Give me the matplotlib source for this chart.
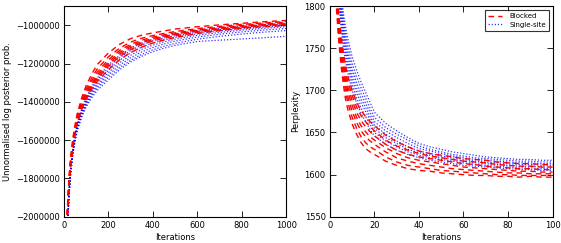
import matplotlib
matplotlib.use("Agg")
import matplotlib.pyplot as plt
from matplotlib.lines import Line2D

# ---------------- data ----------------
# Left panel: iterations and log posterior values (in thousands)
iters_left = [10, 15, 20, 25, 30, 40, 50, 60, 80, 100, 125, 150, 200, 250, 300, 350,
              400, 450, 500, 600, 700, 800, 900, 1000]

blocked_logp_k = [
    [-2250, -1960, -1850, -1760, -1690, -1590, -1520, -1460, -1378, -1315, -1255, -1205, -1145, -1100, -1070, -1052, -1040, -1030, -1020, -1008, -998, -990, -982, -975],
    [-2270, -1975, -1862, -1772, -1702, -1602, -1532, -1472, -1392, -1332, -1275, -1228, -1165, -1120, -1088, -1068, -1054, -1043, -1033, -1018, -1006, -996, -988, -981],
    [-2285, -1985, -1872, -1782, -1712, -1612, -1542, -1482, -1405, -1345, -1290, -1245, -1180, -1132, -1100, -1078, -1062, -1050, -1040, -1024, -1011, -1001, -993, -985],
    [-2300, -1995, -1880, -1790, -1720, -1620, -1550, -1490, -1415, -1355, -1302, -1258, -1192, -1142, -1108, -1086, -1069, -1056, -1045, -1028, -1015, -1005, -997, -990],
    [-2310, -2003, -1888, -1797, -1727, -1627, -1557, -1498, -1424, -1365, -1312, -1268, -1202, -1151, -1116, -1092, -1075, -1061, -1050, -1032, -1019, -1009, -1000, -993],
    [-2320, -2012, -1896, -1804, -1734, -1634, -1564, -1506, -1433, -1375, -1322, -1279, -1215, -1163, -1127, -1101, -1082, -1068, -1056, -1037, -1023, -1012, -1003, -997],
    [-2330, -2020, -1904, -1811, -1741, -1641, -1571, -1514, -1442, -1386, -1335, -1293, -1232, -1180, -1142, -1114, -1093, -1077, -1064, -1043, -1028, -1016, -1007, -1001],
]

single_logp_k = [
    [-2400, -2080, -1920, -1820, -1745, -1640, -1570, -1512, -1435, -1378, -1320, -1275, -1208, -1158, -1120, -1093, -1073, -1058, -1047, -1030, -1016, -1006, -998, -991],
    [-2420, -2092, -1930, -1828, -1752, -1647, -1577, -1519, -1443, -1387, -1330, -1286, -1222, -1170, -1132, -1103, -1082, -1067, -1055, -1037, -1023, -1012, -1003, -996],
    [-2435, -2104, -1940, -1836, -1759, -1653, -1583, -1525, -1450, -1395, -1340, -1297, -1235, -1183, -1144, -1114, -1093, -1077, -1064, -1045, -1030, -1019, -1010, -1002],
    [-2450, -2115, -1948, -1843, -1765, -1659, -1589, -1532, -1457, -1403, -1350, -1308, -1248, -1196, -1157, -1126, -1104, -1087, -1073, -1053, -1038, -1026, -1016, -1008],
    [-2460, -2125, -1956, -1850, -1771, -1665, -1595, -1538, -1464, -1410, -1359, -1318, -1260, -1209, -1170, -1139, -1116, -1098, -1083, -1062, -1047, -1035, -1025, -1017],
    [-2470, -2135, -1963, -1856, -1777, -1671, -1601, -1545, -1472, -1418, -1368, -1328, -1272, -1222, -1183, -1152, -1128, -1110, -1095, -1073, -1058, -1046, -1036, -1028],
    [-2480, -2145, -1970, -1862, -1783, -1677, -1607, -1552, -1480, -1427, -1378, -1340, -1285, -1233, -1192, -1162, -1138, -1120, -1105, -1085, -1078, -1072, -1065, -1058],
]

# Right panel: iterations and perplexity
iters_right = [2, 3, 4, 5, 6, 7, 8, 10, 12, 14, 16, 18, 20, 25, 30, 35, 40, 45, 50,
               55, 60, 65, 70, 75, 80, 85, 90, 95, 100]

blocked_perp = [
    [1850, 1795, 1758, 1730, 1708, 1690, 1678, 1660, 1648, 1638, 1631, 1627, 1624, 1616, 1611, 1607, 1605, 1604, 1602, 1601, 1600, 1599, 1599, 1598, 1598, 1597, 1598, 1597, 1597],
    [1860, 1802, 1765, 1738, 1716, 1699, 1686, 1668, 1655, 1645, 1638, 1633, 1630, 1621, 1615, 1611, 1609, 1607, 1605, 1604, 1603, 1602, 1601, 1600, 1600, 1599, 1599, 1599, 1599],
    [1865, 1808, 1771, 1745, 1723, 1706, 1693, 1675, 1662, 1652, 1645, 1640, 1636, 1627, 1620, 1616, 1613, 1611, 1609, 1607, 1606, 1605, 1604, 1603, 1602, 1602, 1601, 1601, 1601],
    [1870, 1812, 1776, 1750, 1729, 1712, 1699, 1682, 1668, 1658, 1651, 1645, 1641, 1632, 1625, 1620, 1617, 1615, 1613, 1611, 1609, 1608, 1607, 1606, 1605, 1604, 1604, 1603, 1603],
    [1875, 1816, 1781, 1755, 1734, 1718, 1705, 1688, 1674, 1664, 1657, 1651, 1646, 1636, 1629, 1624, 1621, 1619, 1617, 1615, 1613, 1612, 1610, 1609, 1608, 1607, 1607, 1606, 1606],
    [1880, 1820, 1786, 1760, 1740, 1724, 1711, 1694, 1680, 1670, 1663, 1657, 1652, 1641, 1634, 1629, 1625, 1622, 1620, 1618, 1616, 1615, 1614, 1612, 1611, 1610, 1610, 1609, 1609],
    [1885, 1825, 1791, 1766, 1746, 1730, 1717, 1700, 1686, 1676, 1669, 1663, 1658, 1647, 1639, 1633, 1628, 1625, 1623, 1621, 1619, 1618, 1617, 1615, 1614, 1613, 1613, 1612, 1612],
]

single_perp = [
    [1950, 1870, 1805, 1775, 1752, 1735, 1722, 1700, 1685, 1673, 1663, 1654, 1646, 1636, 1629, 1624, 1620, 1617, 1615, 1613, 1611, 1610, 1609, 1608, 1607, 1606, 1606, 1605, 1605],
    [1960, 1878, 1815, 1783, 1760, 1743, 1729, 1707, 1691, 1679, 1669, 1660, 1650, 1640, 1633, 1627, 1623, 1620, 1618, 1616, 1614, 1612, 1611, 1610, 1609, 1608, 1608, 1607, 1607],
    [1970, 1885, 1822, 1790, 1767, 1749, 1735, 1713, 1697, 1685, 1675, 1665, 1655, 1644, 1637, 1630, 1626, 1623, 1620, 1618, 1616, 1614, 1613, 1612, 1611, 1610, 1610, 1609, 1609],
    [1975, 1890, 1828, 1796, 1773, 1755, 1741, 1719, 1703, 1690, 1680, 1669, 1659, 1648, 1640, 1633, 1628, 1625, 1622, 1620, 1618, 1616, 1615, 1614, 1613, 1612, 1612, 1611, 1611],
    [1980, 1895, 1833, 1802, 1779, 1761, 1747, 1725, 1709, 1696, 1685, 1674, 1663, 1652, 1644, 1637, 1631, 1628, 1625, 1622, 1620, 1618, 1617, 1616, 1615, 1614, 1614, 1613, 1613],
    [1985, 1900, 1838, 1808, 1786, 1768, 1754, 1732, 1716, 1703, 1691, 1679, 1668, 1656, 1648, 1641, 1634, 1630, 1627, 1624, 1622, 1620, 1619, 1618, 1617, 1616, 1616, 1615, 1615],
    [1990, 1905, 1844, 1815, 1793, 1776, 1762, 1740, 1724, 1710, 1698, 1686, 1674, 1661, 1652, 1644, 1637, 1633, 1630, 1627, 1625, 1623, 1621, 1620, 1619, 1618, 1618, 1617, 1617],
]

series_labels = ["Blocked", "Single-site"]
left_yticks = [-2000000, -1800000, -1600000, -1400000, -1200000, -1000000]
left_xticks = [0, 200, 400, 600, 800, 1000]
right_yticks = [1550, 1600, 1650, 1700, 1750, 1800]
right_xticks = [0, 20, 40, 60, 80, 100]

# ---------------- plot ----------------
plt.rcParams['font.family'] = ['DejaVu Sans']
plt.rcParams['font.size'] = 6

fig = plt.figure(figsize=(5.61, 2.43), dpi=100)
ax1 = fig.add_axes([0.114, 0.108, 0.396, 0.867])
ax2 = fig.add_axes([0.588, 0.108, 0.397, 0.867])

red_kw = dict(color='red', linestyle=(0, (4, 3)), linewidth=1.0)
blue_kw = dict(color='blue', linestyle=(0, (1, 1.5)), linewidth=0.9, alpha=0.8)

for run in single_logp_k:
    ax1.plot(iters_left, [v * 1000 for v in run], **blue_kw)
for run in blocked_logp_k:
    ax1.plot(iters_left, [v * 1000 for v in run], **red_kw)

for run in single_perp:
    ax2.plot(iters_right, run, **blue_kw)
for run in blocked_perp:
    ax2.plot(iters_right, run, **red_kw)

ax1.set_xlim(0, 1000)
ax1.set_ylim(-2000000, -900000)
ax1.set_xticks(left_xticks)
ax1.set_yticks(left_yticks)
ax1.ticklabel_format(useOffset=False, style='plain')
ax1.set_xlabel("Iterations", labelpad=2)
ax1.set_ylabel("Unnormalised log posterior prob.", labelpad=3)

ax2.set_xlim(0, 100)
ax2.set_ylim(1550, 1800)
ax2.set_xticks(right_xticks)
ax2.set_yticks(right_yticks)
ax2.set_xlabel("Iterations", labelpad=2)
ax2.set_ylabel("Perplexity", labelpad=3)

for ax in (ax1, ax2):
    ax.tick_params(direction='in', top=True, right=True, length=4, width=0.6, pad=3)
    for s in ax.spines.values():
        s.set_linewidth(0.8)

handles = [Line2D([], [], **red_kw), Line2D([], [], **blue_kw)]
leg = ax2.legend(handles, series_labels, loc='upper right', fontsize=5,
                 frameon=True, fancybox=False, handlelength=2.0, borderpad=0.5,
                 labelspacing=0.4, handletextpad=1.0, borderaxespad=0.5)
leg.get_frame().set_edgecolor('black')
leg.get_frame().set_linewidth(0.8)

fig.savefig("out.png", dpi=100)
